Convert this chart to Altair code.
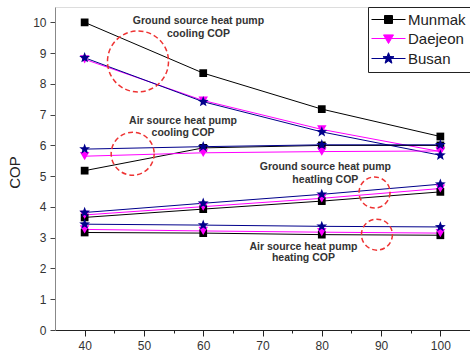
import altair as alt
import pandas as pd

# ---------------- data ----------------
loads = [40, 60, 80, 100]
cities = ["Munmak", "Daejeon", "Busan"]
city_colors = ["#000000", "#ff00ff", "#00008b"]

# Ground source heat pump cooling COP
gshp_cool_munmak = [10.0, 8.35, 7.18, 6.29]
gshp_cool_daejeon = [8.80, 7.46, 6.52, 5.80]
gshp_cool_busan = [8.85, 7.42, 6.44, 5.68]
# Air source heat pump cooling COP
ashp_cool_munmak = [5.18, 5.92, 6.00, 6.00]
ashp_cool_daejeon = [5.65, 5.76, 5.80, 5.82]
ashp_cool_busan = [5.88, 5.96, 6.02, 6.02]
# Ground source heat pump heating COP
gshp_heat_munmak = [3.66, 3.93, 4.19, 4.49]
gshp_heat_daejeon = [3.74, 4.01, 4.28, 4.60]
gshp_heat_busan = [3.82, 4.12, 4.41, 4.74]
# Air source heat pump heating COP
ashp_heat_munmak = [3.17, 3.15, 3.10, 3.08]
ashp_heat_daejeon = [3.27, 3.22, 3.18, 3.15]
ashp_heat_busan = [3.44, 3.41, 3.37, 3.35]

# annotation texts (data coordinates)
ann_text = ["Ground source heat pump", "cooling COP",
            "Air source heat pump", "cooling COP",
            "Ground source heat pump", "heatling COP",
            "Air source heat pump", "heating COP"]
ann_x = [59.2, 59.2, 56.6, 56.6, 80.6, 80.6, 76.9, 76.9]
ann_y = [10.03, 9.61, 6.81, 6.41, 5.31, 4.88, 2.71, 2.34]

# dashed circles (data coordinates)
circ_x = [49.0, 48.1, 88.9, 89.3]
circ_y = [8.73, 5.73, 4.47, 3.10]

# ---------------- tables ----------------
series = [
    ("gc", "Munmak", gshp_cool_munmak), ("gc", "Daejeon", gshp_cool_daejeon), ("gc", "Busan", gshp_cool_busan),
    ("ac", "Munmak", ashp_cool_munmak), ("ac", "Daejeon", ashp_cool_daejeon), ("ac", "Busan", ashp_cool_busan),
    ("gh", "Munmak", gshp_heat_munmak), ("gh", "Daejeon", gshp_heat_daejeon), ("gh", "Busan", gshp_heat_busan),
    ("ah", "Munmak", ashp_heat_munmak), ("ah", "Daejeon", ashp_heat_daejeon), ("ah", "Busan", ashp_heat_busan),
]
rows = []
for grp, city, vals in series:
    for x, v in zip(loads, vals):
        rows.append({"group": grp + "_" + city, "city": city, "load": x, "cop": v})
df = pd.DataFrame(rows)
ann_df = pd.DataFrame({"text": ann_text, "load": ann_x, "cop": ann_y})
circ_df = pd.DataFrame({"load": circ_x, "cop": circ_y, "id": [0, 1, 2, 3]})

STAR_PTS = [(0, -1), (0.247, -0.34), (0.951, -0.309), (0.399, 0.13), (0.588, 0.809), (0, 0.42),
            (-0.588, 0.809), (-0.399, 0.13), (-0.951, -0.309), (-0.247, -0.34)]


def star_path(s, line=None):
    p = "M" + "L".join(f"{a*s:.3f},{b*s:.3f}" for a, b in STAR_PTS) + "Z"
    if line:
        p = f"M-{line},0H{line}" + p
    return p


STAR = star_path(1.0)
legend_paths = [
    "M-4.25,0H4.25M-1,-1H1V1H-1Z",
    "M-4.25,0H4.25M-1.25,-0.9L1.25,-0.9L0,1.25Z",
    star_path(1.45, 4.25),
]

xs = alt.Scale(domain=[35, 105], nice=False, zero=False)
ys = alt.Scale(domain=[0, 10.5], nice=False)
cscale = alt.Scale(domain=cities, range=city_colors)

x_axis = alt.Axis(values=list(range(40, 106, 5)), title=None, grid=False, format="d",
                  labelExpr="datum.value % 10 === 0 ? datum.label : ''",
                  tickSize=alt.condition("datum.value % 10 !== 0", alt.value(3), alt.value(6)),
                  labelFontSize=12, labelFont="Liberation Sans", labelColor="#333",
                  labelPadding=4, domainColor="#222", tickColor="#222", labelFlush=False,
                  labelOverlap=False)
y_axis = alt.Axis(values=[i * 0.5 for i in range(0, 22)], title="COP", grid=False, format="d",
                  labelExpr="datum.value % 1 === 0 ? datum.label : ''",
                  tickSize=alt.condition("datum.value % 1 !== 0", alt.value(3), alt.value(5)),
                  labelFontSize=12, labelFont="Liberation Sans", labelColor="#333",
                  labelPadding=4, domainColor="#888", tickColor="#444",
                  titleFont="Liberation Sans", titleFontSize=15, titleFontWeight="normal",
                  titleColor="#222", titleX=-41, titleY=165, titleAngle=270,
                  titleAlign="center", titleBaseline="middle", labelFlush=False,
                  labelOverlap=False)

X = alt.X("load:Q", scale=xs, axis=x_axis)
Y = alt.Y("cop:Q", scale=ys, axis=y_axis)
C = alt.Color("city:N", scale=cscale, legend=None)

lines = alt.Chart(df).mark_line(strokeWidth=1, clip=True).encode(x=X, y=Y, color=C, detail="group:N")

pt_styles = {"Munmak": ("square", 60), "Daejeon": ("triangle-down", 90), "Busan": (STAR, 130)}
point_layers = []
for c in cities:
    shp, sz = pt_styles[c]
    point_layers.append(
        alt.Chart(df).transform_filter(alt.datum.city == c)
        .mark_point(filled=True, shape=shp, size=sz, opacity=1, strokeWidth=0)
        .encode(x=X, y=Y, color=C)
    )

texts = alt.Chart(ann_df).mark_text(font="Liberation Sans", fontSize=10.5, fontWeight="bold",
                                    color="#333", align="center", baseline="middle").encode(
    x=X, y=Y, text="text:N")

circ_sizes = [3721, 1849, 961, 961]
circle_layers = []
for i, sz in enumerate(circ_sizes):
    circle_layers.append(
        alt.Chart(circ_df).transform_filter(alt.datum.id == i)
        .mark_point(shape="circle", filled=False, size=sz, stroke="#ee3333", strokeWidth=1.5,
                    strokeDash=[5, 3], opacity=1)
        .encode(x=X, y=Y)
    )

leg = alt.Legend(orient="none", legendX=313, legendY=0, title=None, strokeColor="#222",
                 fillColor="white", padding=5, symbolSize=64, symbolStrokeWidth=1,
                 symbolOpacity=1,
                 labelFontSize=15, labelFont="Liberation Sans", labelColor="#222",
                 rowPadding=3, symbolOffset=8, labelOffset=12, cornerRadius=0)
# invisible layer that only carries the legend
legend_layer = alt.Chart(df).mark_point(filled=True, opacity=0, size=64).encode(
    x=X, y=Y,
    fill=alt.Fill("city:N", scale=alt.Scale(domain=cities, range=city_colors), legend=leg),
    stroke=alt.Stroke("city:N", scale=alt.Scale(domain=cities, range=city_colors), legend=leg),
    shape=alt.Shape("city:N", scale=alt.Scale(domain=cities, range=legend_paths), legend=leg),
)

chart = alt.layer(legend_layer, lines, *point_layers, *circle_layers, texts).properties(
    width=415, height=323,
    padding={"left": 55, "top": 7, "right": 0, "bottom": 22},
    autosize=alt.AutoSizeParams(type="none"),
).configure_view(stroke="#888", strokeWidth=1).configure(background="white")

chart.save("out.html", embed_options={"renderer": "svg", "actions": False})
